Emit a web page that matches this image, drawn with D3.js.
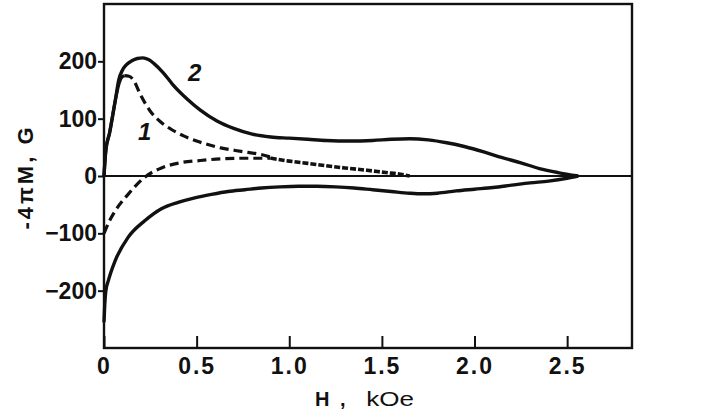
<!DOCTYPE html>
<html>
<head>
<meta charset="utf-8">
<script src="https://cdn.jsdelivr.net/npm/d3@7"></script>
<style>
  html, body { margin: 0; padding: 0; background: #fff; }
  svg { display: block; }
  text { font-family: "Liberation Sans", Arial, sans-serif; fill: #111; }
</style>
</head>
<body>
<svg id="chart" width="715" height="413"></svg>
<script>
// ---- data (H in kOe, -4πM in G) ----
const xTicks = [0, 0.5, 1.0, 1.5, 2.0, 2.5];
const xTickLabels = ["0", "0.5", "1.0", "1.5", "2.0", "2.5"];
const yTicks = [-200, -100, 0, 100, 200];
const yTickLabels = ["\u2212200", "\u2212100", "0", "100", "200"];

// curve 2 (solid), upper branch
const c2UpH = [0, 0.01, 0.03, 0.06, 0.08, 0.10, 0.12, 0.15, 0.18, 0.21, 0.24, 0.27, 0.32, 0.37, 0.45, 0.52, 0.61, 0.70, 0.80, 0.90, 1.00, 1.10, 1.20, 1.33, 1.45, 1.55, 1.65, 1.75, 1.85, 1.95, 2.05, 2.15, 2.25, 2.35, 2.45, 2.56];
const c2UpM = [0, 45, 75, 130, 168, 185, 194, 201, 205, 206, 203, 196, 180, 160, 134, 115, 96, 83, 73, 68, 66, 64, 62, 61, 62, 64, 65, 63, 58, 51, 42, 32, 23, 13, 6, 0];
// curve 2 (solid), lower branch
const c2LoH = [0, 0.004, 0.01, 0.023, 0.06, 0.13, 0.22, 0.31, 0.40, 0.49, 0.58, 0.67, 0.76, 0.85, 0.95, 1.05, 1.15, 1.25, 1.35, 1.45, 1.55, 1.65, 1.72, 1.80, 1.90, 2.00, 2.10, 2.20, 2.30, 2.40, 2.50, 2.56];
const c2LoM = [-255, -225, -200, -183, -148, -107, -78, -57, -46, -38, -32, -27, -24, -21, -19, -18, -18, -19, -21, -24, -27, -30, -31, -30, -26, -23, -20, -16, -12, -9, -4, 0];

// curve 1, rising part (solid, shared with curve 2)
const c1RiseH = [0, 0.01, 0.03, 0.06, 0.08, 0.095, 0.11];
const c1RiseM = [0, 45, 75, 130, 160, 172, 175];
// curve 1 (dashed), descending upper branch
const c1UpH = [0.11, 0.135, 0.16, 0.195, 0.25, 0.30, 0.36, 0.43, 0.50, 0.57, 0.63, 0.74, 0.84, 0.90];
const c1UpM = [175, 174, 167, 143, 113, 96, 82, 70, 61, 54, 49, 43, 38, 33];
// curve 1 (dashed), lower branch
const c1LoH = [0, 0.03, 0.06, 0.13, 0.22, 0.31, 0.41, 0.52, 0.63, 0.74, 0.84, 0.90];
const c1LoM = [-100, -78, -61, -32, -2, 14, 23, 27, 30, 31, 31, 31];
// curve 1, merged tail
const c1TailH = [0.90, 1.00, 1.10, 1.20, 1.30, 1.42, 1.52, 1.60, 1.65];
const c1TailM = [31, 26, 22, 18, 14, 10, 6, 3, 0];

// ---- layout ----
const svg = d3.select("#chart");
const L = 104, R = 632, T = 4, B = 348;
const x = d3.scaleLinear().domain([0, 2.85]).range([L, R]);
const y = d3.scaleLinear().domain([-300, 300]).range([B, T]);

const zip = (hs, ms) => hs.map((h, i) => [h, ms[i]]);
const line = d3.line().x(d => x(d[0])).y(d => y(d[1])).curve(d3.curveMonotoneX);

// zero line
svg.append("line").attr("x1", L).attr("x2", R).attr("y1", y(0)).attr("y2", y(0))
  .attr("stroke", "#111").attr("stroke-width", 1.8);

// curves
const g = svg.append("g").attr("fill", "none").attr("stroke", "#111").attr("stroke-linecap", "butt");
g.append("path").attr("d", line(zip(c2UpH, c2UpM))).attr("stroke-width", 3.4);
g.append("path").attr("d", line(zip(c2LoH, c2LoM))).attr("stroke-width", 3.4);
g.append("path").attr("d", line(zip(c1RiseH, c1RiseM))).attr("stroke-width", 3.2);
g.append("path").attr("d", line(zip(c1UpH, c1UpM))).attr("stroke-width", 3.2)
  .attr("stroke-dasharray", "9,5");
g.append("path").attr("d", line(zip(c1LoH, c1LoM))).attr("stroke-width", 3.2)
  .attr("stroke-dasharray", "9,5");
g.append("path").attr("d", line(zip(c1TailH, c1TailM))).attr("stroke-width", 3.6)
  .attr("stroke-dasharray", "6,2");

// frame
svg.append("rect").attr("x", L).attr("y", T).attr("width", R - L).attr("height", B - T)
  .attr("fill", "none").attr("stroke", "#111").attr("stroke-width", 2.4);

// axes
const yAxis = d3.axisLeft(y).tickValues(yTicks).tickSize(6).tickPadding(1)
  .tickFormat((d, i) => yTickLabels[i]);
const ya = svg.append("g").attr("transform", `translate(${L},0)`).call(yAxis);
ya.select(".domain").remove();
ya.selectAll(".tick line").attr("stroke", "#111").attr("stroke-width", 2);
ya.selectAll(".tick text").attr("font-size", 23).attr("font-weight", "bold")
  .attr("font-family", "Liberation Sans, Arial, sans-serif").attr("fill", "#111");

const xAxis = d3.axisBottom(x).tickValues(xTicks).tickSizeInner(-12).tickSizeOuter(0).tickPadding(10)
  .tickFormat((d, i) => xTickLabels[i]);
const xa = svg.append("g").attr("transform", `translate(0,${B})`).call(xAxis);
xa.select(".domain").remove();
xa.selectAll(".tick line").attr("stroke", "#111").attr("stroke-width", 2);
xa.selectAll(".tick text").attr("font-size", 23).attr("font-weight", "bold")
  .attr("letter-spacing", 2)
  .attr("font-family", "Liberation Sans, Arial, sans-serif").attr("fill", "#111");

// axis titles
svg.append("text").attr("transform", "translate(33,177) rotate(-90)")
  .attr("text-anchor", "middle").attr("font-size", 22).attr("font-weight", "bold")
  .attr("letter-spacing", 3).text("-4\u03C0M, G");

const xt = svg.append("text").attr("y", 406).attr("font-size", 20);
xt.append("tspan").attr("x", 315).attr("font-weight", "bold").text("H");
xt.append("tspan").attr("x", 340).attr("font-weight", "bold").text(",");
xt.append("tspan").attr("x", 359).attr("textLength", 55).attr("lengthAdjust", "spacingAndGlyphs")
  .text(" kOe");

// curve labels
svg.append("text").attr("x", x(0.49)).attr("y", y(166)).attr("font-size", 24)
  .attr("font-style", "italic").attr("font-weight", "bold").attr("text-anchor", "middle").text("2");
svg.append("text").attr("x", x(0.22)).attr("y", y(63)).attr("font-size", 24)
  .attr("font-style", "italic").attr("font-weight", "bold").attr("text-anchor", "middle").text("1");
</script>
</body>
</html>
